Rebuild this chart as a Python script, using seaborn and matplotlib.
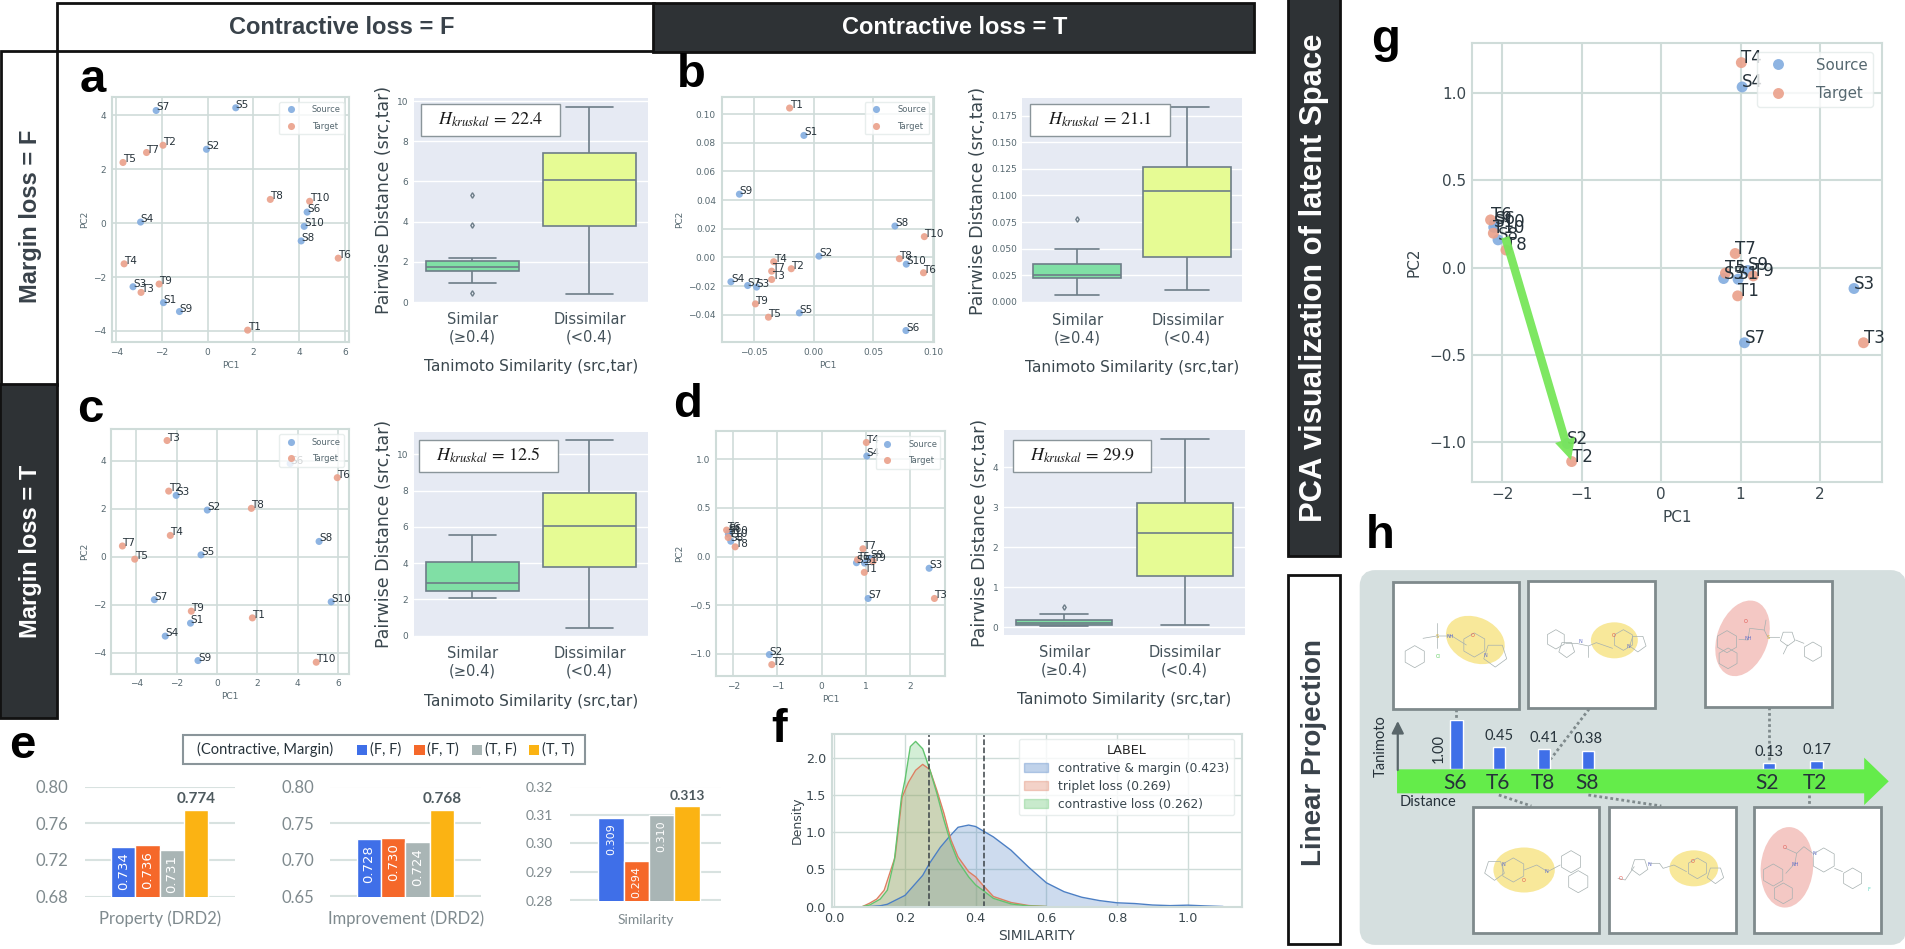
import matplotlib
matplotlib.use("Agg")
import matplotlib.pyplot as plt
import seaborn as sns
from matplotlib.patches import Rectangle, Ellipse, Polygon, FancyBboxPatch, Patch, RegularPolygon

# point names, same order in every pc array
labels = ["S1", "S2", "S3", "S4", "S5", "S6", "S7", "S8", "S9", "S10",
          "T1", "T2", "T3", "T4", "T5", "T6", "T7", "T8", "T9", "T10"]
groups = ["Source"] * 10 + ["Target"] * 10

pc1_a = [-1.93, -0.05, -3.26, -2.93, 1.23, 4.35, -2.25, 4.09, -1.23, 4.22,
         1.75, -1.95, -2.91, -3.65, -3.70, 5.71, -2.67, 2.74, -2.12, 4.46]
pc2_a = [-2.95, 2.74, -2.36, 0.04, 4.28, 0.41, 4.18, -0.66, -3.28, -0.12,
         -3.97, 2.89, -2.57, -1.51, 2.25, -1.30, 2.62, 0.88, -2.26, 0.81]
pc1_b = [-0.0082, 0.0044, -0.0478, -0.0693, -0.012, 0.0772, -0.0553, 0.068, -0.0622, 0.0775,
         -0.0202, -0.0188, -0.0352, -0.0335, -0.0379, 0.0919, -0.0352, 0.0717, -0.0488, 0.0926]
pc2_b = [0.0851, 0.0009, -0.0207, -0.017, -0.0387, -0.051, -0.0196, 0.0219, 0.0441, -0.0047,
         0.1042, -0.0079, -0.0154, -0.003, -0.0417, -0.0107, -0.0096, -0.0009, -0.0324, 0.0145]
pc1_c = [-1.31, -0.48, -2.02, -2.56, -0.79, 3.62, -3.10, 5.05, -0.94, 5.65,
         1.75, -2.39, -2.47, -2.31, -4.07, 5.95, -4.68, 1.70, -1.27, 4.91]
pc2_c = [-2.77, 1.95, 2.56, -3.31, 0.08, 3.89, -1.79, 0.64, -4.33, -1.88,
         -2.55, 2.74, 4.85, 0.89, -0.10, 3.30, 0.45, 2.02, -2.27, -4.40]
pc1_d = [0.969, -1.183, 2.43, 1.02, 0.787, -2.10, 1.05, -2.056, 1.09, -2.11,
         0.964, -1.128, 2.55, 1.01, 0.81, -2.15, 0.933, -1.956, 1.16, -2.115]
pc2_d = [-0.067, -1.006, -0.12, 1.032, -0.063, 0.25, -0.43, 0.158, -0.017, 0.23,
         -0.162, -1.109, -0.43, 1.171, -0.032, 0.272, 0.08, 0.10, -0.048, 0.196]

# box samples, picked so quartiles and whiskers land where the picture has them
sim_a = [0.45, 0.95, 1.3, 1.55, 1.6, 1.7, 1.75, 1.8, 1.9, 2.03, 2.2, 3.85, 5.3]
dis_a = [0.4, 3.8, 6.05, 7.4, 9.7]
sim_b = [0.0065, 0.015, 0.0225, 0.023, 0.025, 0.03, 0.0355, 0.05, 0.078]
dis_b = [0.0115, 0.042, 0.104, 0.127, 0.183]
sim_c = [2.08, 2.45, 2.9, 4.05, 5.55]
dis_c = [0.4, 3.8, 6.05, 7.85, 10.8]
sim_d = [0.04, 0.05, 0.06, 0.09, 0.12, 0.15, 0.19, 0.34, 0.52]
dis_d = [0.05, 1.28, 2.36, 3.1, 4.7]
box_names = ["Similar\n(≥0.4)", "Dissimilar\n(<0.4)"]
h_values = ["22.4", "21.1", "12.5", "29.9"]

# panel e
combos = ["(F, F)", "(F, T)", "(T, F)", "(T, T)"]
combo_colors = ["#3F6FE8", "#F5682A", "#A9B5B5", "#FBB313"]
property_vals = [0.734, 0.736, 0.731, 0.774]
improvement_vals = [0.728, 0.730, 0.724, 0.768]
similarity_vals = [0.309, 0.294, 0.310, 0.313]

# panel f, density curves
margin_x = [0.10, 0.13, 0.15, 0.20, 0.25, 0.269, 0.30, 0.323, 0.35, 0.38, 0.40, 0.45, 0.50,
            0.55, 0.60, 0.65, 0.70, 0.75, 0.80, 0.85, 0.90, 0.95, 1.00, 1.05, 1.10]
margin_y = [0.0, 0.01, 0.03, 0.15, 0.42, 0.58, 0.80, 0.93, 1.07, 1.10, 1.08, 0.94, 0.76,
            0.53, 0.32, 0.20, 0.125, 0.08, 0.05, 0.04, 0.02, 0.012, 0.018, 0.008, 0.0]
triplet_x = [0.08, 0.10, 0.12, 0.141, 0.172, 0.192, 0.21, 0.23, 0.25, 0.27, 0.29, 0.31, 0.33,
             0.35, 0.38, 0.40, 0.42, 0.45, 0.50, 0.55, 0.60]
triplet_y = [0.0, 0.045, 0.10, 0.22, 0.67, 1.48, 1.68, 1.84, 1.92, 1.85, 1.57, 1.26, 0.90,
             0.67, 0.47, 0.40, 0.29, 0.135, 0.054, 0.013, 0.0]
contrast_x = [0.08, 0.10, 0.13, 0.15, 0.17, 0.19, 0.20, 0.215, 0.23, 0.25, 0.27, 0.29, 0.31,
              0.33, 0.35, 0.38, 0.40, 0.42, 0.45, 0.50, 0.55, 0.60]
contrast_y = [0.0, 0.02, 0.10, 0.22, 0.63, 1.48, 1.71, 2.16, 2.23, 2.13, 1.85, 1.53, 1.17,
              0.85, 0.61, 0.40, 0.29, 0.22, 0.11, 0.035, 0.007, 0.0]
mean_lines = [0.423, 0.269]
sim_names = ["contrative & margin (0.423)", "triplet loss (0.269)", "contrastive loss (0.262)"]
sim_colors = ["#4C7FC4", "#DD7F62", "#62C46F"]

# panel h
h_names = ["S6", "T6", "T8", "S8", "S2", "T2"]
h_distance = [0.1275, 0.218, 0.3145, 0.409, 0.796, 0.898]
h_tanimoto = [1.00, 0.45, 0.41, 0.38, 0.13, 0.17]

W, H = 1906, 949
INK = "#26323A"
TICK = "#566870"
GRID = "#CFDCD9"

sns.set_theme(style="whitegrid")
plt.rcParams["mathtext.fontset"] = "stix"

fig = plt.figure(figsize=(W / 100, H / 100), dpi=100)


def px_axes(x0, y0, x1, y1, **kw):
    return fig.add_axes([x0 / W, 1 - y1 / H, (x1 - x0) / W, (y1 - y0) / H], **kw)


def overlay():
    a = px_axes(0, 0, W, H)
    a.set_xlim(0, W)
    a.set_ylim(H, 0)
    a.axis("off")
    a.patch.set_alpha(0)
    return a


back = overlay()


def band(a, x0, y0, x1, y1, dark, text, rot=0, size=17, cx=None, cy=None, weight="bold"):
    a.add_patch(Rectangle((x0, y0), x1 - x0, y1 - y0, fc="#2E3235" if dark else "white",
                          ec="#111111", lw=2))
    a.text((x0 + x1) / 2 if cx is None else cx, (y0 + y1) / 2 if cy is None else cy, text,
           color="white" if dark else "#39424A", rotation=rot, ha="center", va="center",
           fontsize=size, fontweight=weight, family="Liberation Sans")


band(back, 57, 3, 654, 51, False, "Contractive loss = F", cx=342)
band(back, 653, 3, 1254, 52, True, "Contractive loss = T", cx=955)
band(back, 1, 51, 57, 385, False, "Margin loss = F", rot=90, cx=31, cy=216)
band(back, 0, 384, 57, 718, True, "Margin loss = T", rot=90, cx=31, cy=551)
band(back, 1288, -3, 1340, 556, True, "PCA visualization of latent Space", rot=90, size=22.3, cy=278)
band(back, 1288, 575, 1340, 944, False, "Linear Projection", rot=90, size=20, cy=752)


def draw_scatter(box, xs, ys, xlim, ylim, xticks, yticks, tick_fs=6.5, name_fs=7.5, s=26,
                 legend_fs=6):
    ax = px_axes(*box)
    sns.scatterplot(x=xs, y=ys, hue=groups, palette=["#82ACDF", "#EAA08A"], s=s, alpha=0.9,
                    edgecolor="none", ax=ax)
    for name, x, y in zip(labels, xs, ys):
        ax.text(x, y, name, fontsize=name_fs, color=INK)
    ax.set_xlim(xlim)
    ax.set_ylim(ylim)
    ax.set_xticks(xticks)
    ax.set_yticks(yticks)
    ax.set_xlabel("PC1", fontsize=tick_fs, color=TICK, labelpad=3)
    ax.set_ylabel("PC2", fontsize=tick_fs, color=TICK, labelpad=3)
    ax.tick_params(labelsize=tick_fs, labelcolor=TICK, length=0, pad=4)
    ax.grid(color=GRID, lw=1.2)
    for sp in ax.spines.values():
        sp.set_color(GRID)
        sp.set_linewidth(1.5)
    leg = ax.legend(loc="upper right", fontsize=legend_fs, borderaxespad=0.6, labelcolor=TICK,
                    edgecolor="#E3EAE9", handletextpad=1.5, labelspacing=0.9)
    leg.set_zorder(5)
    return ax


draw_scatter((112, 97, 349, 342), pc1_a, pc2_a, (-4.18, 6.18), (-4.41, 4.68),
             [-4, -2, 0, 2, 4, 6], [-4, -2, 0, 2, 4])
draw_scatter((721.5, 97, 934.5, 342), pc1_b, pc2_b, (-0.0772, 0.1011), (-0.059, 0.1119),
             [-0.05, 0, 0.05, 0.10], [-0.04, -0.02, 0, 0.02, 0.04, 0.06, 0.08, 0.10])
draw_scatter((111.5, 429.5, 349, 673.5), pc1_c, pc2_c, (-5.22, 6.53), (-4.87, 5.31),
             [-4, -2, 0, 2, 4, 6], [-4, -2, 0, 2, 4])
draw_scatter((716, 431.5, 945.5, 676), pc1_d, pc2_d, (-2.39, 2.80), (-1.226, 1.284),
             [-2, -1, 0, 1, 2], [-1.0, -0.5, 0.0, 0.5, 1.0])

axg = draw_scatter((1472, 42.5, 1882.5, 481.5), pc1_d, pc2_d, (-2.384, 2.789), (-1.223, 1.286),
                   [-2, -1, 0, 1, 2], [-1.0, -0.5, 0.0, 0.5, 1.0], tick_fs=11, name_fs=12, s=62,
                   legend_fs=10.8)
axg.set_xlabel("PC1", fontsize=11, color="#3A474E", labelpad=6)
axg.set_ylabel("PC2", fontsize=11, color="#3A474E", labelpad=6)
axg.tick_params(labelcolor="#3A474E")
axg.grid(color=GRID, lw=1.5)
axg.annotate("", xy=(-1.137, -1.10), xytext=(-1.965, 0.173),
             arrowprops=dict(facecolor="#77E65A", edgecolor="none", width=6, headwidth=15,
                             headlength=15, shrink=0, alpha=0.95), zorder=4)

sns.set_style("darkgrid")


def draw_box(box, sim, dis, ylim, yticks):
    ax = px_axes(*box)
    names = [box_names[0]] * len(sim) + [box_names[1]] * len(dis)
    sns.boxplot(x=names, y=sim + dis, hue=names, palette=["#80DFA5", "#E6FB94"], saturation=1,
                legend=False, linecolor="#6D7D88", linewidth=1.2, fliersize=2.8,
                flierprops=dict(marker="d"), ax=ax)
    ax.set_facecolor("#E6EAF3")
    ax.set_ylim(ylim)
    ax.set_yticks(yticks)
    ax.tick_params(axis="y", labelsize=6.5, labelcolor=TICK, length=0, pad=4)
    ax.tick_params(axis="x", labelsize=10.5, labelcolor="#44525A", length=0, pad=7)
    ax.grid(axis="x", visible=False)
    ax.grid(axis="y", color="white", lw=1)
    ax.set_xlabel("Tanimoto Similarity (src,tar)", fontsize=11.1, color="#3A474E", labelpad=11)
    ax.set_ylabel("Pairwise Distance (src,tar)", fontsize=12.5, color="#3A474E", labelpad=3)
    for sp in ax.spines.values():
        sp.set_visible(False)
    return ax


draw_box((414, 98, 648, 302), sim_a, dis_a, (0.05, 10.15), [0, 2, 4, 6, 8, 10])
draw_box((1022.5, 98, 1242.5, 303), sim_b, dis_b, (-0.001, 0.1916),
         [0, 0.025, 0.05, 0.075, 0.1, 0.125, 0.15, 0.175])
draw_box((414, 431.5, 648, 636.5), sim_c, dis_c, (-0.055, 11.27), [0, 2, 4, 6, 8, 10])
draw_box((1004, 430, 1245, 635), sim_d, dis_d, (-0.19, 4.93), [0, 1, 2, 3, 4])

sns.set_style("white")


def draw_bars(box, vals, ylim, yticks, label, bar_lims, fs=12, in_fs=9.5, top_fs=11):
    ax = px_axes(*box)
    sns.barplot(x=combos, y=vals, hue=combos, palette=combo_colors, width=1, saturation=1,
                legend=False, ax=ax)
    ax.set_xlim(bar_lims)
    ax.set_ylim(ylim)
    ax.set_yticks(yticks)
    ax.set_yticklabels(["%.2f" % t for t in yticks], fontsize=fs, color="#7F8A8E", family="Lato")
    ax.set_xticks([])
    ax.set_xlabel(label, fontsize=fs, color="#7F8A8E", family="Lato", labelpad=10)
    ax.set_ylabel("")
    ax.tick_params(length=0, pad=12)
    ax.grid(axis="y", color="#D8E2E0", lw=1.5)
    ax.set_axisbelow(True)
    ax.patch.set_alpha(0)
    for sp in ax.spines.values():
        sp.set_visible(False)
    for i, cont in enumerate(ax.containers[:3]):
        for t in ax.bar_label(cont, labels=["%.3f" % vals[i]], label_type="edge", padding=-4,
                              rotation=90, color="white", fontsize=in_fs):
            t.set_va("top")
            t.set_ha("center")
    ax.bar_label(ax.containers[3], labels=["%.3f" % vals[3]], padding=3, fontsize=top_fs,
                 fontweight="bold", color="#4E5A5F", family="Lato")
    return ax


draw_bars((85, 786.5, 235.5, 896.5), property_vals, (0.68, 0.80), [0.68, 0.72, 0.76, 0.80],
          "Property (DRD2)", (-1.575, 4.61))
draw_bars((330.5, 786.5, 481, 896.5), improvement_vals, (0.65, 0.80), [0.65, 0.70, 0.75, 0.80],
          "Improvement (DRD2)", (-1.575, 4.61))
draw_bars((570, 786.5, 721, 900.5), similarity_vals, (0.28, 0.32), [0.28, 0.29, 0.30, 0.31, 0.32],
          "Similarity", (-1.62, 4.35), fs=10, in_fs=8, top_fs=10)

sns.set_style("whitegrid")
axf = px_axes(831.5, 733.5, 1241.5, 906.5)
for xs, ys, col in zip([margin_x, triplet_x, contrast_x], [margin_y, triplet_y, contrast_y], sim_colors):
    sns.lineplot(x=xs, y=ys, color=col, lw=1, ax=axf)
    axf.fill_between(xs, ys, color=col, alpha=0.28, lw=0)
for m in mean_lines:
    axf.axvline(m, color="#3B4347", ls="--", lw=1.1)
axf.set_xlim(-0.008, 1.152)
axf.set_ylim(0, 2.337)
axf.set_xticks([0, 0.2, 0.4, 0.6, 0.8, 1.0])
axf.set_yticks([0, 0.5, 1.0, 1.5, 2.0])
axf.set_xlabel("SIMILARITY", fontsize=10, color="#3A474E", labelpad=3)
axf.set_ylabel("Density", fontsize=9, color="#3A474E", labelpad=1)
axf.tick_params(labelsize=9.2, labelcolor="#3A474E", length=0, pad=4)
axf.grid(color=GRID, lw=1)
for sp in axf.spines.values():
    sp.set_color(GRID)
    sp.set_linewidth(1.5)
axf.legend(handles=[Patch(fc=c, ec=c, alpha=0.35) for c in sim_colors], labels=sim_names,
           title="LABEL", fontsize=8.8, title_fontsize=9.2, loc="upper right", labelcolor="#3A474E",
           bbox_to_anchor=(0.982, 0.968), borderaxespad=0, edgecolor="#E3EAE9", labelspacing=0.4)


# panel h, background and sketches use the zoomed picture's coordinates
def hx(v):
    return 1340 + v / 2.77


def hy(v):
    return 560 + v / 3


back.add_patch(FancyBboxPatch((hx(70), hy(47)), hx(1553) - hx(70), hy(1138) - hy(47),
                              boxstyle="round,pad=0,rounding_size=10", fc="#D5DFDF", ec="#D5DFDF", lw=8))
mol_boxes = [(146, 66, 497, 446), (522, 63, 872, 443), (1012, 62, 1363, 441),
             (368, 740, 718, 1118), (746, 740, 1096, 1118), (1148, 740, 1498, 1118)]
for v in [(321, 446, 321, 481), (690, 447, 583, 598), (1188, 441, 1188, 600),
          (440, 705, 530, 738), (688, 705, 890, 738), (1298, 705, 1298, 738)]:
    back.plot([hx(v[0]), hx(v[2])], [hy(v[1]), hy(v[3])], color="#7F8A8C", lw=2, ls=(0, (1, 1)))
for b in mol_boxes:
    back.add_patch(Rectangle((hx(b[0]), hy(b[1])), hx(b[2]) - hx(b[0]), hy(b[3]) - hy(b[1]),
                             fc="white", ec="#7F8A8C", lw=2))

yel, pink = "#F8E89A", "#F4C8C4"
for cx, cy, w, h, ang, col in [(375, 240, 170, 135, 25, yel), (760, 241, 130, 108, 0, yel),
                               (1115, 235, 140, 235, 20, pink), (510, 930, 170, 135, 0, yel),
                               (980, 925, 135, 108, 0, yel), (1238, 922, 145, 242, 5, pink)]:
    back.add_patch(Ellipse((hx(cx), hy(cy)), w / 2.77, h / 3, angle=ang, fc=col, ec="none"))

rings = [(207, 290, 32, 6), (372, 255, 35, 6), (430, 285, 35, 5),
         (598, 238, 28, 6), (628, 268, 24, 5), (785, 240, 30, 6), (825, 250, 25, 5),
         (1072, 245, 32, 6), (1075, 295, 30, 6), (1240, 235, 22, 5), (1310, 275, 28, 6),
         (428, 930, 30, 5), (480, 930, 35, 6), (640, 905, 32, 6), (660, 965, 32, 6),
         (830, 920, 25, 5), (990, 925, 30, 6), (1040, 945, 25, 5),
         (1200, 945, 32, 6), (1228, 1000, 30, 6), (1340, 900, 35, 6), (1420, 955, 30, 6)]
for cx, cy, r, n in rings:
    back.add_patch(RegularPolygon((hx(cx), hy(cy)), n, radius=r / 2.9, fc="none", ec="#A6B0B0", lw=0.5))
chains = [[(230, 235), (268, 228), (310, 228), (350, 255)], [(268, 190), (268, 265)],
          [(625, 250), (655, 250), (688, 258), (710, 248), (755, 265)], [(688, 258), (688, 290)],
          [(1105, 238), (1130, 240), (1135, 205), (1175, 210), (1185, 232), (1218, 232)],
          [(1175, 210), (1180, 180)], [(1240, 255), (1228, 282)], [(1262, 240), (1285, 250)],
          [(510, 930), (545, 915), (575, 935), (610, 915)],
          [(855, 910), (885, 910), (895, 925), (925, 915), (960, 935)], [(815, 920), (790, 960), (770, 955)],
          [(1235, 940), (1260, 910), (1265, 880), (1285, 860), (1310, 880)], [(1265, 880), (1235, 865)],
          [(1370, 925), (1392, 935)]]
for c in chains:
    back.plot([hx(p[0]) for p in c], [hy(p[1]) for p in c], color="#A6B0B0", lw=0.5)
for cx, cy, t, col in [(368, 226, "O", "#E0554F"), (305, 228, "NH", "#6470C8"), (268, 228, "S", "#D8B83C"),
                       (272, 291, "Cl", "#5CCB5C"), (402, 287, "N", "#6470C8"),
                       (758, 226, "O", "#E0554F"), (665, 245, "N", "#6470C8"), (800, 260, "N", "#6470C8"),
                       (1125, 184, "O", "#E0554F"), (1130, 237, "NH", "#6470C8"), (1186, 232, "S", "#D8B83C"),
                       (508, 962, "O", "#E0554F"), (572, 935, "N", "#6470C8"), (452, 915, "N", "#6470C8"),
                       (978, 905, "O", "#E0554F"), (858, 912, "N", "#6470C8"), (778, 957, "O", "#E0554F"),
                       (1233, 862, "O", "#E0554F"), (1262, 913, "NH", "#6470C8"), (1315, 880, "N", "#6470C8"),
                       (1466, 988, "F", "#5CD6C0")]:
    back.text(hx(cx), hy(cy), t, fontsize=3.6, color=col, ha="center", va="center")

# distance arrow
back.add_patch(Polygon([(hx(158), hy(628)), (hx(1452), hy(628)), (hx(1452), hy(593)), (hx(1520), hy(664)),
                        (hx(1452), hy(735)), (hx(1452), hy(700)), (hx(158), hy(700))],
                       fc="#64EC4A", ec="none"))
back.annotate("", xy=(hx(160), hy(483)), xytext=(hx(160), hy(630)),
              arrowprops=dict(arrowstyle="-|>", color="#59666A", lw=1.6, mutation_scale=18, shrinkA=0, shrinkB=0))
back.text(hx(113), hy(558), "Tanimoto", rotation=90, fontsize=10.5, family="Lato", color=INK,
          ha="center", va="center")
back.text(hx(165), hy(726), "Distance", fontsize=10.5, family="Lato", color=INK, ha="left", va="center")

axh = px_axes(hx(158), hy(481), hx(1452), hy(627))
axh.patch.set_alpha(0)
axh.axis("off")
h_bars = axh.bar(h_distance, h_tanimoto, width=0.027, color="#3F6FE8")
axh.set_xlim(0, 1)
axh.set_ylim(0, 1)
axh.bar_label(h_bars, labels=[""] + ["%.2f" % v for v in h_tanimoto[1:]], padding=3, fontsize=10.5,
              family="Lato", color=INK)
for d, v, n in zip(h_distance, h_tanimoto, h_names):
    axh.text(d - 0.003, -0.29, n, fontsize=15, family="Lato", color=INK, ha="center", va="center",
             clip_on=False)
axh.text(h_distance[0] - 0.039, 0.43, "%.2f" % h_tanimoto[0], rotation=90, fontsize=10.5, family="Lato",
         color=INK, ha="center", va="center")

# things that sit on top of every panel
top = overlay()
for (x0, y0, x1, y1), val in zip([(421, 104, 560, 136), (1030, 104, 1170, 136),
                                  (419, 439.5, 558.5, 471.5), (1013.5, 439.5, 1151.5, 471.5)], h_values):
    top.add_patch(Rectangle((x0, y0), x1 - x0, y1 - y0, fc="white", ec="#8A959A", lw=1))
    top.text((x0 + x1) / 2, (y0 + y1) / 2, r"$H_{kruskal}$ = " + val, fontsize=13, family="STIXGeneral",
             ha="center", va="center", color="#1A1A1A")

for x, y, t in [(92.5, 80, "a"), (691, 75, "b"), (90.5, 410, "c"), (687.5, 405, "d"), (22, 746, "e"),
                (779, 730, "f"), (1386, 40, "g"), (1380, 536, "h")]:
    top.text(x, y, t, fontsize=34, fontweight="bold", family="Liberation Sans", color="black",
             ha="center", va="center")

top.add_patch(Rectangle((183.5, 735), 401.5, 29, fc="white", ec="#8A959A", lw=1.5))
top.text(197.5, 749.5, "(Contractive, Margin)", fontsize=10.5, family="Lato", color=INK, va="center")
for x, name, col in zip([357, 414.5, 472, 529], combos, combo_colors):
    top.add_patch(Rectangle((x, 745), 10.5, 9.5, fc=col, ec="none"))
    top.text(x + 13, 749.5, name, fontsize=10.5, family="Lato", color=INK, va="center")

fig.savefig("out.png", dpi=100)
